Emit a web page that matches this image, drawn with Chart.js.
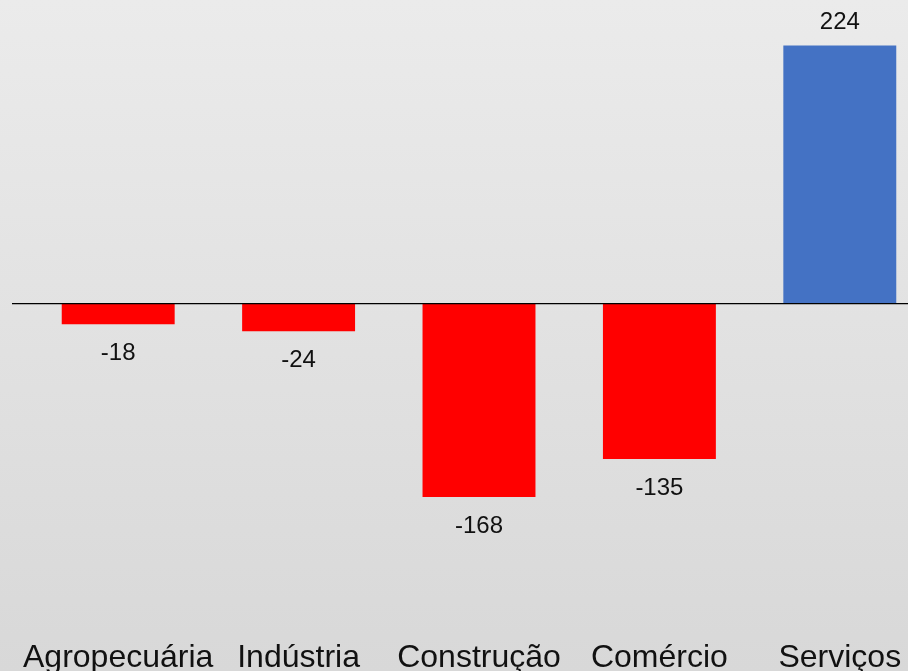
<!DOCTYPE html>
<html>
<head>
<meta charset="utf-8">
<script src="https://cdn.jsdelivr.net/npm/chart.js@4"></script>
<style>
  html, body { margin: 0; padding: 0; overflow: hidden; }
  body {
    width: 908px; height: 671px;
    background: linear-gradient(to bottom, #ebebeb 0%, #d8d8d8 100%);
  }
  #wrap { position: absolute; left: 0; top: 0; width: 940px; height: 671px; }
</style>
</head>
<body>
<div id="wrap"><canvas id="bar-chart"></canvas></div>
<script>
const categories = ['Agropecuária', 'Indústria', 'Construção', 'Comércio', 'Serviços'];
const values = [-18, -24, -168, -135, 224];
const barColors = values.map(v => v < 0 ? '#ff0000' : '#4472c4');

const ctx = document.getElementById('bar-chart');
const fontFamily = '"Liberation Sans", Arial, sans-serif';

// horizontal line at zero, runs a bit past the plot on the left like the original
const zeroLine = {
    id: 'zeroLine',
    afterDatasetsDraw(chart) {
        const y = chart.scales.y.getPixelForValue(0);
        const c = chart.ctx;
        c.save();
        c.strokeStyle = '#000000';
        c.lineWidth = 1.2;
        c.beginPath();
        c.moveTo(12, y);
        c.lineTo(chart.width, y);
        c.stroke();
        c.restore();
    }
};

// value printed above the positive bar and under the negative ones
const valueLabels = {
    id: 'valueLabels',
    afterDatasetsDraw(chart) {
        const c = chart.ctx;
        const meta = chart.getDatasetMeta(0);
        c.save();
        c.font = '24px ' + fontFamily;
        c.fillStyle = '#111111';
        c.textAlign = 'center';
        c.textBaseline = 'middle';
        meta.data.forEach((bar, i) => {
            const v = values[i];
            const y = v < 0 ? bar.y + 29 : bar.y - 23;
            c.fillText(String(v), bar.x, y);
        });
        c.restore();
    }
};

new Chart(ctx, {
    type: 'bar',
    data: {
        labels: categories,
        datasets: [{
            data: values,
            backgroundColor: barColors,
            borderWidth: 0,
            barPercentage: 0.626,
            categoryPercentage: 1.0
        }]
    },
    options: {
        responsive: true,
        maintainAspectRatio: false,
        animation: false,
        layout: { padding: { left: 28, right: 10, top: 0, bottom: 0 } },
        plugins: {
            legend: { display: false },
            tooltip: { enabled: false }
        },
        scales: {
            x: {
                grid: { display: false, drawTicks: false },
                border: { display: false },
                // fixed axis height so the plot ends at the same place as the original
                afterFit: (scale) => { scale.height = 51; },
                ticks: {
                    color: '#111111',
                    padding: 19,
                    autoSkip: false,
                    maxRotation: 0,
                    font: { family: fontFamily, size: 32 }
                }
            },
            y: {
                display: false,
                min: -274.7,
                max: 263.5
            }
        }
    },
    plugins: [zeroLine, valueLabels]
});
</script>
</body>
</html>
